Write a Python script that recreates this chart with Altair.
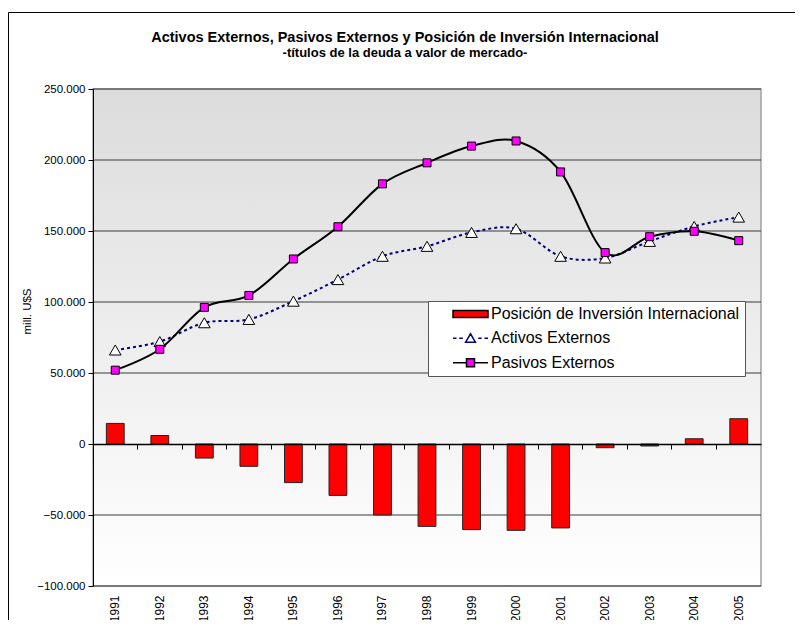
import altair as alt
import pandas as pd

years = [str(y) for y in range(1991, 2006)]
pii = [14500, 6000, -9900, -15700, -27200, -36200, -50000, -58000, -60300,
       -60800, -59100, -2600, -1400, 3700, 17800]
activos = [66200, 72100, 85400, 87750, 100600, 115800, 132200, 139200, 149000,
           151600, 132200, 131000, 142700, 153200, 159800]
pasivos = [52000, 66700, 96200, 104600, 130300, 153000, 183200, 198000, 209800,
           213400, 191600, 134800, 146000, 149800, 143200]
series = ["Posición de Inversión Internacional", "Activos Externos", "Pasivos Externos"]
grid_values = [-100000, -50000, 50000, 100000, 150000, 200000, 250000]
tick_values = [-100000, -50000, 0, 50000, 100000, 150000, 200000, 250000]

FONT = "Liberation Sans"
W, H = 668, 497
Y_MIN, Y_MAX = -100000, 250000
zero_from_bottom = H * (0 - Y_MIN) / (Y_MAX - Y_MIN)

df = pd.DataFrame({"year": years, "pii": pii, "activos": activos, "pasivos": pasivos})
one = pd.DataFrame({"k": [0]})
grid_df = pd.DataFrame({"v": grid_values})
leg_df = pd.DataFrame({"serie": series})

xscale = alt.Scale(domain=years, paddingInner=0, paddingOuter=0)
yscale = alt.Scale(domain=[Y_MIN, Y_MAX], nice=False, zero=False)

frame = alt.Chart(one).mark_rect(fill=None, stroke="black", strokeWidth=1, clip=False).encode(
    x=alt.value(-84.5), x2=alt.value(W + 200), y=alt.value(-76.5), y2=alt.value(H + 200)
)

bg = alt.Chart(one).mark_rect(
    fill=alt.Gradient(gradient="linear", x1=0, y1=0, x2=0, y2=1,
                      stops=[alt.GradientStop(offset=0, color="#dcdcdc"),
                             alt.GradientStop(offset=1, color="#ffffff")]),
    stroke="#a0a0a0", strokeWidth=1.5
).encode(x=alt.value(0), x2=alt.value(W), y=alt.value(0), y2=alt.value(H))

grid = alt.Chart(grid_df).mark_rule(color="#3a3a3a", strokeWidth=1).encode(
    y=alt.Y("v:Q", scale=yscale, axis=alt.Axis(
        values=tick_values, labelExpr="replace(format(datum.value, ','), ',', '.')",
        title="mill. U$S", titleFont=FONT, titleFontSize=11.5, titleFontWeight="normal",
        titleColor="black", titleAngle=270, titleX=-66, titleY=222,
        titleAlign="center", titleBaseline="middle",
        labelFont=FONT, labelFontSize=11.5, labelColor="black", labelPadding=3,
        tickSize=5, tickColor="black", domainColor="black", grid=False, zindex=1))
)

bars = alt.Chart(df).mark_bar(color="#ff0000", stroke="#222222", strokeWidth=1,
                              width=alt.RelativeBandSize(0.4)).encode(
    x=alt.X("year:O", scale=xscale, axis=alt.Axis(
        orient="bottom", offset=-zero_from_bottom, labels=False, ticks=True, tickSize=5,
        tickColor="black", domainColor="black", domainWidth=1.5, bandPosition=0,
        grid=False, title=None, zindex=1)),
    y=alt.Y("pii:Q", scale=yscale),
)

act_line = alt.Chart(df).mark_line(color="#000080", strokeWidth=2, strokeDash=[3, 3],
                                   interpolate="cardinal", tension=0).encode(
    x=alt.X("year:O", scale=xscale, axis=None), y=alt.Y("activos:Q", scale=yscale))
act_pts = alt.Chart(df).mark_point(shape="triangle-up", size=135, filled=True, fill="white",
                                   stroke="black", strokeWidth=1, opacity=1).encode(
    x=alt.X("year:O", scale=xscale, axis=None), y=alt.Y("activos:Q", scale=yscale))
pas_line = alt.Chart(df).mark_line(color="black", strokeWidth=2,
                                   interpolate="cardinal", tension=0).encode(
    x=alt.X("year:O", scale=xscale, axis=None), y=alt.Y("pasivos:Q", scale=yscale))
pas_pts = alt.Chart(df).mark_point(shape="square", size=64, filled=True, fill="#ff00ff",
                                   stroke="black", strokeWidth=1, opacity=1).encode(
    x=alt.X("year:O", scale=xscale, axis=alt.Axis(
        orient="bottom", labelAngle=270, ticks=False, domain=False, labelPadding=9,
        labelFont=FONT, labelFontSize=12, labelColor="black", grid=False, title=None)),
    y=alt.Y("pasivos:Q", scale=yscale))

paths = [
    "M-2.5,-0.5H2.5V0.5H-2.5Z",
    "M-2.5,0H-2M-1.6,0H-1.1M1.1,0H1.6M2,0H2.5M0,-0.65L0.7,0.55L-0.7,0.55Z",
    "M-2.5,0H-0.6M0.6,0H2.5M-0.57,-0.57H0.57V0.57H-0.57Z",
]
leg = alt.Legend(orient="none", legendX=335, legendY=212, title=None,
                 fillColor="white", strokeColor="#555555", padding=4.9,
                 labelFont=FONT, labelFontSize=16, labelColor="black", labelLimit=500,
                 symbolSize=196, symbolStrokeWidth=1.5, symbolOpacity=1,
                 symbolOffset=29.6, labelOffset=12.5, rowPadding=8.4)
legend_layer = alt.Chart(leg_df).mark_point(filled=True, opacity=0).encode(
    fill=alt.Fill("serie:N", scale=alt.Scale(domain=series, range=["#ff0000", "white", "#ff00ff"]), legend=leg),
    stroke=alt.Stroke("serie:N", scale=alt.Scale(domain=series, range=["black", "#000080", "black"]), legend=leg),
    shape=alt.Shape("serie:N", scale=alt.Scale(domain=series, range=paths), legend=leg),
)

chart = alt.layer(frame, bg, grid, bars, act_line, act_pts, pas_line, pas_pts, legend_layer).resolve_axis(
    x="independent"
).properties(
    width=W, height=H,
    autosize=alt.AutoSizeParams(type="none"),
    padding={"left": 85, "top": 81, "right": 34, "bottom": 34},
    title=alt.TitleParams(
        text="Activos Externos, Pasivos Externos y Posición de Inversión Internacional",
        subtitle="-títulos de la deuda a valor de mercado-",
        font=FONT, fontSize=14.5, fontWeight="bold", color="black",
        subtitleFont=FONT, subtitleFontSize=13, subtitleFontWeight="bold", subtitleColor="black",
        subtitlePadding=2, anchor="middle", frame="group", dx=-22, dy=49, offset=0),
).configure_view(stroke=None)

chart.save("out.html", embed_options={"renderer": "svg", "actions": False})
